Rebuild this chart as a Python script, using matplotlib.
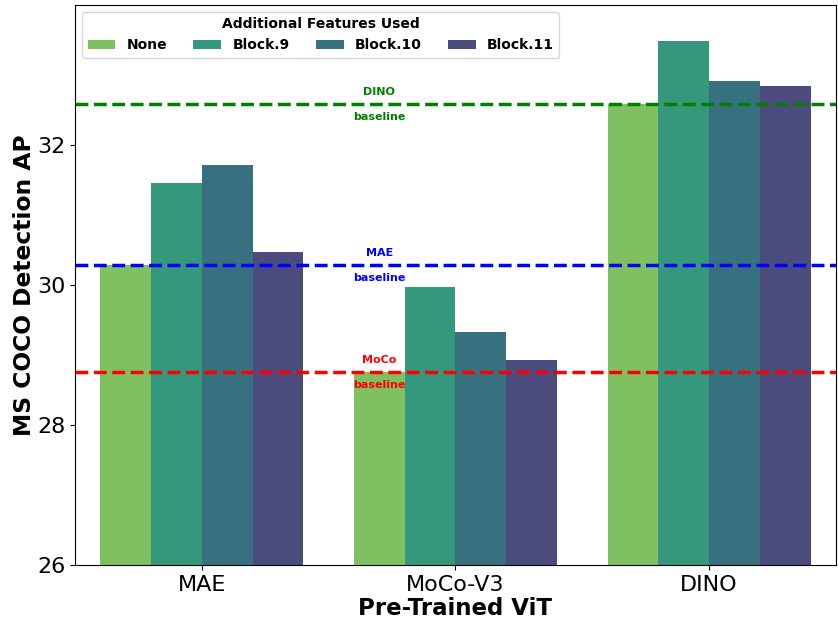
import matplotlib.pyplot as plt
import numpy as np

# 数据
models = ['MAE', 'MoCo-V3', 'DINO']
features = ['None', 'Block.9', 'Block.10', 'Block.11']
ap_none = [30.28, 28.75, 32.58]
ap_block9 = [31.46, 29.97, 33.48]
ap_block10 = [31.72, 29.33, 32.92]
ap_block11 = [30.47, 28.92, 32.84]
baselines = {'DINO': 32.58, 'MAE': 30.28, 'MoCo': 28.75}
baseline_colors = {'DINO': 'green', 'MAE': 'blue', 'MoCo': 'red'}

colors = ['#7fc160', '#35977b', '#377180', '#4b4c7d']
series = [ap_none, ap_block9, ap_block10, ap_block11]

fig = plt.figure(figsize=(8.38, 6.2), dpi=100)
ax = fig.add_axes([0.0895, 0.089, 0.908, 0.903])

x = np.arange(len(models))
width = 0.2
for i, (vals, name) in enumerate(zip(series, features)):
    ax.bar(x + (i - 1.5) * width, vals, width, color=colors[i], label=name)

# 基线
for name, val in baselines.items():
    ax.axhline(val, color=baseline_colors[name], linestyle='--', linewidth=2.5)
    ax.text(0.7, val + 0.18, name, color=baseline_colors[name], fontsize=8,
            fontweight='bold', ha='center', va='center')
    ax.text(0.7, val - 0.18, 'baseline', color=baseline_colors[name], fontsize=8,
            fontweight='bold', ha='center', va='center')

ax.set_xlim(-0.5, 2.5)
ax.set_ylim(26, 34)
ax.set_yticks([26, 28, 30, 32])
ax.set_xticks(x)
ax.set_xticklabels(models)
ax.tick_params(labelsize=16)
ax.set_xlabel('Pre-Trained ViT', fontsize=16.5, fontweight='bold', labelpad=2)
ax.set_ylabel('MS COCO Detection AP', fontsize=16.8, fontweight='bold', labelpad=1)

leg = ax.legend(title='Additional Features Used', ncol=4, loc='upper left',
                prop={'weight': 'bold', 'size': 10}, handlelength=2.0,
                handletextpad=0.8, columnspacing=1.9, borderaxespad=0.5)
leg.get_title().set_fontweight('bold')
leg.get_title().set_fontsize(10)

plt.savefig('out.png', dpi=100)
